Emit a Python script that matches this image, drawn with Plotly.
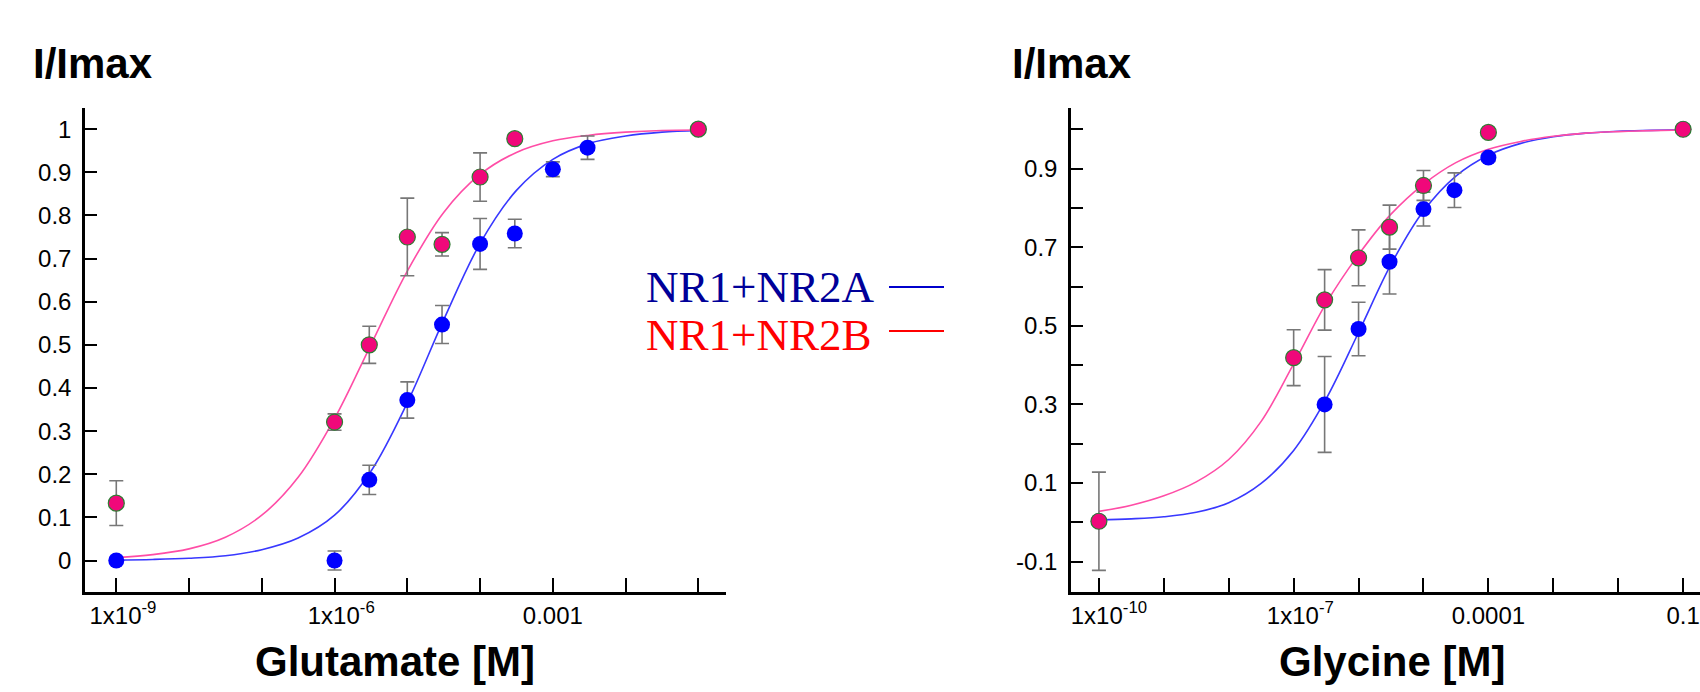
import plotly.graph_objects as go

# ---------------- Data: left panel (Glutamate) ----------------
glu_conc_2a = [1e-9, 1e-6, 3e-6, 1e-5, 3e-5, 1e-4, 3e-4, 1e-3, 3e-3, 1e-1]
glu_resp_2a = [0.0, 0.0, 0.187, 0.372, 0.547, 0.734, 0.758, 0.907, 0.957, 1.0]
glu_err_2a = [0.0, 0.022, 0.034, 0.042, 0.044, 0.059, 0.033, 0.017, 0.027, 0.0]

glu_conc_2b = [1e-9, 1e-6, 3e-6, 1e-5, 3e-5, 1e-4, 3e-4, 1e-1]
glu_resp_2b = [0.133, 0.321, 0.5, 0.75, 0.733, 0.889, 0.978, 1.0]
glu_err_2b = [0.052, 0.019, 0.043, 0.09, 0.027, 0.056, 0.01, 0.0]

# fitted curves (values at half-decade steps)
glu_fit_conc = [1e-9, 3.16e-9, 1e-8, 3.16e-8, 1e-7, 3.16e-7, 1e-6, 3.16e-6, 1e-5,
                3.16e-5, 1e-4, 3.16e-4, 1e-3, 3.16e-3, 1e-2, 3.16e-2, 1e-1]
glu_fit_2a = [0.001, 0.0024, 0.0052, 0.011, 0.025, 0.052, 0.105, 0.207, 0.366,
              0.558, 0.735, 0.858, 0.93, 0.967, 0.984, 0.993, 0.997]
glu_fit_2b = [0.0067, 0.0136, 0.027, 0.054, 0.105, 0.193, 0.329, 0.5, 0.671,
              0.807, 0.895, 0.946, 0.973, 0.986, 0.993, 0.997, 0.998]

glu_tickvals = [1e-9, 1e-6, 1e-3]
glu_ticktext = ["&nbsp;&nbsp;1x10<sup>-9</sup>", "&nbsp;&nbsp;1x10<sup>-6</sup>", "0.001"]
glu_minorvals = [1e-8, 1e-7, 1e-5, 1e-4, 1e-2, 1e-1]
glu_ytickvals = [0, 0.1, 0.2, 0.3, 0.4, 0.5, 0.6, 0.7, 0.8, 0.9, 1.0]
glu_yticktext = ["0", "0.1", "0.2", "0.3", "0.4", "0.5", "0.6", "0.7", "0.8", "0.9", "1"]

# ---------------- Data: right panel (Glycine) ----------------
gly_conc_2a = [1e-10, 3e-7, 1e-6, 3e-6, 1e-5, 3e-5, 1e-4, 1e-1]
gly_resp_2a = [0.003, 0.30, 0.492, 0.663, 0.797, 0.845, 0.928, 1.0]
gly_err_2a = [0.0, 0.122, 0.068, 0.082, 0.043, 0.044, 0.01, 0.0]

gly_conc_2b = [1e-10, 1e-7, 3e-7, 1e-6, 3e-6, 1e-5, 1e-4, 1e-1]
gly_resp_2b = [0.003, 0.419, 0.566, 0.673, 0.751, 0.857, 0.992, 1.0]
gly_err_2b = [0.125, 0.071, 0.077, 0.071, 0.056, 0.038, 0.0, 0.0]

gly_fit_conc = [1e-10, 3.16e-10, 1e-9, 3.16e-9, 1e-8, 3.16e-8, 1e-7, 3.16e-7, 1e-6,
                3.16e-6, 1e-5, 3.16e-5, 1e-4, 3.16e-4, 1e-3, 3.16e-3, 1e-2, 3.16e-2, 1e-1]
gly_fit_2a = [0.006, 0.009, 0.0143, 0.0256, 0.05, 0.099, 0.183, 0.314, 0.483,
              0.656, 0.792, 0.881, 0.934, 0.964, 0.981, 0.99, 0.995, 0.997, 0.9985]
gly_fit_2b = [0.028, 0.0437, 0.0676, 0.103, 0.16, 0.257, 0.403, 0.557, 0.681,
              0.784, 0.86, 0.915, 0.949, 0.969, 0.982, 0.99, 0.994, 0.9965, 0.998]

gly_tickvals = [1e-10, 1e-7, 1e-4, 1e-1]
gly_ticktext = ["&nbsp;&nbsp;&nbsp;1x10<sup>-10</sup>", "&nbsp;&nbsp;1x10<sup>-7</sup>", "0.0001", "0.1"]
gly_minorvals = [1e-9, 1e-8, 1e-6, 1e-5, 1e-3, 1e-2]
gly_ytickvals = [-0.1, 0.1, 0.3, 0.5, 0.7, 0.9]
gly_yticktext = ["-0.1", "0.1", "0.3", "0.5", "0.7", "0.9"]
gly_yminorvals = [0.0, 0.2, 0.4, 0.6, 0.8, 1.0]

series_names = ["NR1+NR2A", "NR1+NR2B"]

# ---------------- Styles / geometry ----------------
W, H = 1700, 692


def px(x):
    return x / W


def py(y):
    return 1 - y / H


BLUE_PT = "#0000FF"
PINK_PT = "#F0087A"
PINK_EDGE = "#2E7D32"
BLUE_LINE = "#3838FF"
PINK_LINE = "#FF4DA6"
ERR_COL = "#777777"
SANS = "Liberation Sans, Arial, sans-serif"
SERIF = "Liberation Serif, Times New Roman, serif"

fig = go.Figure()


def add_panel(xa, ya, fit_x, fit_a, fit_b, xa_, ya_, ea, xb, yb, eb):
    fig.add_trace(go.Scatter(x=fit_x, y=fit_a, mode="lines", line=dict(color=BLUE_LINE, width=1.6, shape="spline"),
                             xaxis=xa, yaxis=ya, showlegend=False, hoverinfo="skip"))
    fig.add_trace(go.Scatter(x=fit_x, y=fit_b, mode="lines", line=dict(color=PINK_LINE, width=1.6, shape="spline"),
                             xaxis=xa, yaxis=ya, showlegend=False, hoverinfo="skip"))
    fig.add_trace(go.Scatter(x=xa_, y=ya_, mode="markers", name=series_names[0],
                             marker=dict(color=BLUE_PT, size=16, line=dict(width=0)),
                             error_y=dict(type="data", array=ea, visible=True, color=ERR_COL, thickness=1.6, width=7),
                             xaxis=xa, yaxis=ya, showlegend=False))
    fig.add_trace(go.Scatter(x=xb, y=yb, mode="markers", name=series_names[1],
                             marker=dict(color=PINK_PT, size=16, line=dict(width=1.2, color=PINK_EDGE)),
                             error_y=dict(type="data", array=eb, visible=True, color=ERR_COL, thickness=1.6, width=7),
                             xaxis=xa, yaxis=ya, showlegend=False))


add_panel("x", "y", glu_fit_conc, glu_fit_2a, glu_fit_2b,
          glu_conc_2a, glu_resp_2a, glu_err_2a, glu_conc_2b, glu_resp_2b, glu_err_2b)
add_panel("x2", "y2", gly_fit_conc, gly_fit_2a, gly_fit_2b,
          gly_conc_2a, gly_resp_2a, gly_err_2a, gly_conc_2b, gly_resp_2b, gly_err_2b)

axis_common = dict(showline=True, linecolor="black", linewidth=2.5, ticks="inside",
                   tickcolor="black", tickwidth=2, showgrid=False, zeroline=False,
                   mirror=False, automargin=False)

y_dom = [py(592), py(108)]
xfont = dict(family=SANS, size=24, color="black")
yfont = dict(family=SANS, size=24, color="black")


def minor_x(vals):
    return dict(tickmode="array", tickvals=vals, ticks="inside", ticklen=14, tickwidth=2,
                tickcolor="black", showgrid=False)


fig.update_layout(
    width=W, height=H,
    margin=dict(l=0, r=0, t=0, b=0, autoexpand=False),
    paper_bgcolor="white", plot_bgcolor="white",
    xaxis=dict(type="log", domain=[px(85), px(726)], range=[-9.43, -0.62],
               tickmode="array", tickvals=glu_tickvals, ticktext=glu_ticktext, ticklen=14,
               minor=minor_x(glu_minorvals), tickfont=xfont, ticklabeloverflow="allow",
               anchor="y", ticklabelstandoff=0, **axis_common),
    yaxis=dict(domain=y_dom, range=[-0.073, 1.049], tickmode="array",
               tickvals=glu_ytickvals, ticktext=glu_yticktext, ticklen=12, tickfont=yfont,
               ticklabelstandoff=6, anchor="x", **axis_common),
    xaxis2=dict(type="log", domain=[px(1071), 1.0], range=[-10.43, -0.74],
                tickmode="array", tickvals=gly_tickvals, ticktext=gly_ticktext, ticklen=14,
                minor=minor_x(gly_minorvals), tickfont=xfont, ticklabeloverflow="allow",
                anchor="y2", ticklabelstandoff=0, **axis_common),
    yaxis2=dict(domain=y_dom, range=[-0.177, 1.054], tickmode="array",
                tickvals=gly_ytickvals, ticktext=gly_yticktext, ticklen=12, tickfont=yfont,
                ticklabelstandoff=6,
                minor=dict(tickmode="array", tickvals=gly_yminorvals, ticks="inside", ticklen=12,
                           tickwidth=2, tickcolor="black", showgrid=False),
                anchor="x2", **axis_common),
)

annots = [
    dict(text="<b>I/Imax</b>", x=px(31), y=py(63), xanchor="left", yanchor="middle",
         font=dict(family=SANS, size=42, color="black")),
    dict(text="<b>I/Imax</b>", x=px(1010), y=py(63), xanchor="left", yanchor="middle",
         font=dict(family=SANS, size=42, color="black")),
    dict(text="<b>Glutamate [M]</b>", x=px(395), y=py(661), xanchor="center", yanchor="middle",
         font=dict(family=SANS, size=42, color="black")),
    dict(text="<b>Glycine [M]</b>", x=px(1392), y=py(661), xanchor="center", yanchor="middle",
         font=dict(family=SANS, size=42, color="black")),
    dict(text=series_names[0], x=px(644), y=py(287), xanchor="left", yanchor="middle",
         font=dict(family=SERIF, size=45, color="#000099")),
    dict(text=series_names[1], x=px(644), y=py(335), xanchor="left", yanchor="middle",
         font=dict(family=SERIF, size=45, color="#FF0000")),
]
for a in annots:
    a.update(xref="paper", yref="paper", showarrow=False)
fig.update_layout(annotations=annots)

fig.add_shape(type="line", xref="paper", yref="paper", x0=px(889), x1=px(944),
              y0=py(287), y1=py(287), line=dict(color="#0000CC", width=2))
fig.add_shape(type="line", xref="paper", yref="paper", x0=px(889), x1=px(944),
              y0=py(331), y1=py(331), line=dict(color="#FF0000", width=2))

fig.write_html("out.html", config={"displayModeBar": False},
               post_script="document.body.style.margin='0';document.body.style.overflow='hidden';")
